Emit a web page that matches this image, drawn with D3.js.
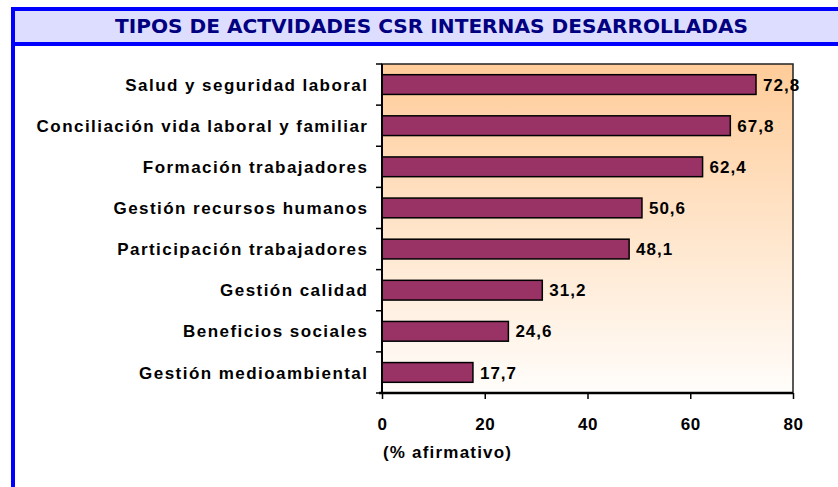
<!DOCTYPE html>
<html>
<head>
<meta charset="utf-8">
<script src="https://cdn.jsdelivr.net/npm/d3@7/dist/d3.min.js"></script>
<style>
  html, body { margin: 0; padding: 0; background: #ffffff; }
  svg { display: block; }
</style>
</head>
<body>
<svg id="chart" width="838" height="487"></svg>
<script>
// ---- data ----
const title = "TIPOS DE ACTVIDADES CSR INTERNAS DESARROLLADAS";
const categories = [
  "Salud y seguridad laboral",
  "Conciliación vida laboral y familiar",
  "Formación trabajadores",
  "Gestión recursos humanos",
  "Participación trabajadores",
  "Gestión calidad",
  "Beneficios sociales",
  "Gestión medioambiental"
];
const values = [72.8, 67.8, 62.4, 50.6, 48.1, 31.2, 24.6, 17.7];
const xTicks = [0, 20, 40, 60, 80];
const xAxisLabel = "(% afirmativo)";

// ---- layout ----
const svg = d3.select("#chart");
const W = 838, H = 487;
const plot = { left: 382, right: 793, top: 64, bottom: 393 };
const FONT = "'Liberation Sans', Arial, sans-serif";

// Frame / header
svg.append("rect").attr("x", 11).attr("y", 7).attr("width", W - 11).attr("height", 37)
  .attr("fill", "#DDDDFF");
svg.append("rect").attr("x", 11).attr("y", 7).attr("width", W - 11).attr("height", 4).attr("fill", "#0000FF");
svg.append("rect").attr("x", 11).attr("y", 42).attr("width", W - 11).attr("height", 4).attr("fill", "#0000FF");
svg.append("rect").attr("x", 11).attr("y", 7).attr("width", 4).attr("height", H - 7).attr("fill", "#0000FF");

svg.append("text")
  .attr("x", 115).attr("y", 32.5)
  .attr("textLength", 633).attr("lengthAdjust", "spacingAndGlyphs")
  .attr("font-family", "'DejaVu Sans', Verdana, sans-serif")
  .attr("font-weight", "bold").attr("font-size", 19)
  .attr("fill", "#000080")
  .text(title);

// Scales
const x = d3.scaleLinear().domain([0, 80]).range([plot.left, plot.right]);
const y = d3.scaleBand().domain(categories).range([plot.top, plot.bottom])
  .paddingInner(0.52).paddingOuter(0.26);

// Plot background gradient
const defs = svg.append("defs");
const grad = defs.append("linearGradient").attr("id", "bg")
  .attr("x1", "0").attr("y1", "0").attr("x2", "0").attr("y2", "1");
grad.append("stop").attr("offset", "0%").attr("stop-color", "#FFCC99");
grad.append("stop").attr("offset", "100%").attr("stop-color", "#FFFDFB");

svg.append("rect")
  .attr("x", plot.left).attr("y", plot.top)
  .attr("width", plot.right - plot.left).attr("height", plot.bottom - plot.top)
  .attr("fill", "url(#bg)")
  .attr("stroke", "#222").attr("stroke-width", 1.5);

// Bars
svg.append("g").selectAll("rect").data(categories).join("rect")
  .attr("x", x(0))
  .attr("y", d => y(d))
  .attr("width", (d, i) => x(values[i]) - x(0))
  .attr("height", y.bandwidth())
  .attr("fill", "#993366")
  .attr("stroke", "#000").attr("stroke-width", 1.5);

// Value labels
svg.append("g").selectAll("text").data(categories).join("text")
  .attr("x", (d, i) => x(values[i]) + 7)
  .attr("y", d => y(d) + y.bandwidth() / 2)
  .attr("dy", "0.36em")
  .attr("font-family", FONT)
  .attr("font-weight", "bold").attr("font-size", 17)
  .attr("letter-spacing", 1)
  .attr("fill", "#000")
  .text((d, i) => values[i].toFixed(1).replace(".", ","));

// Category labels
const cls = 1.45;
svg.append("g").selectAll("text").data(categories).join("text")
  .attr("x", 367 + cls)
  .attr("y", d => y(d) + y.bandwidth() / 2)
  .attr("dy", "0.36em")
  .attr("text-anchor", "end")
  .attr("font-family", FONT)
  .attr("font-weight", "bold").attr("font-size", 17)
  .attr("letter-spacing", cls)
  .attr("fill", "#000")
  .text(d => d);

// Y axis line and tick marks at band boundaries
const step = y.step();
const yBounds = d3.range(categories.length + 1).map(i => plot.top + i * step);
svg.append("line")
  .attr("x1", plot.left).attr("x2", plot.left)
  .attr("y1", plot.top).attr("y2", plot.bottom)
  .attr("stroke", "#000").attr("stroke-width", 2);
svg.append("g").selectAll("line").data(yBounds).join("line")
  .attr("x1", plot.left - 6).attr("x2", plot.left)
  .attr("y1", d => d).attr("y2", d => d)
  .attr("stroke", "#000").attr("stroke-width", 1.5);

// X axis
const xAxis = svg.append("g")
  .attr("transform", `translate(0,${plot.bottom})`)
  .call(d3.axisBottom(x).tickValues(xTicks).tickSize(6).tickSizeOuter(0).tickPadding(19)
    .tickFormat(d => d));
xAxis.select(".domain").attr("stroke", "#000").attr("stroke-width", 2.5)
  .attr("d", `M${plot.left - 3},0H${plot.right}`);
xAxis.selectAll(".tick line").attr("stroke", "#000").attr("stroke-width", 1.5);
xAxis.selectAll(".tick text")
  .attr("font-family", FONT)
  .attr("font-weight", "bold").attr("font-size", 17)
  .attr("letter-spacing", 0.5)
  .attr("fill", "#000");

svg.append("text")
  .attr("x", 383).attr("y", 458)
  .attr("font-family", FONT)
  .attr("font-weight", "bold").attr("font-size", 17)
  .attr("letter-spacing", 1.2)
  .attr("fill", "#000")
  .text(xAxisLabel);
</script>
</body>
</html>
